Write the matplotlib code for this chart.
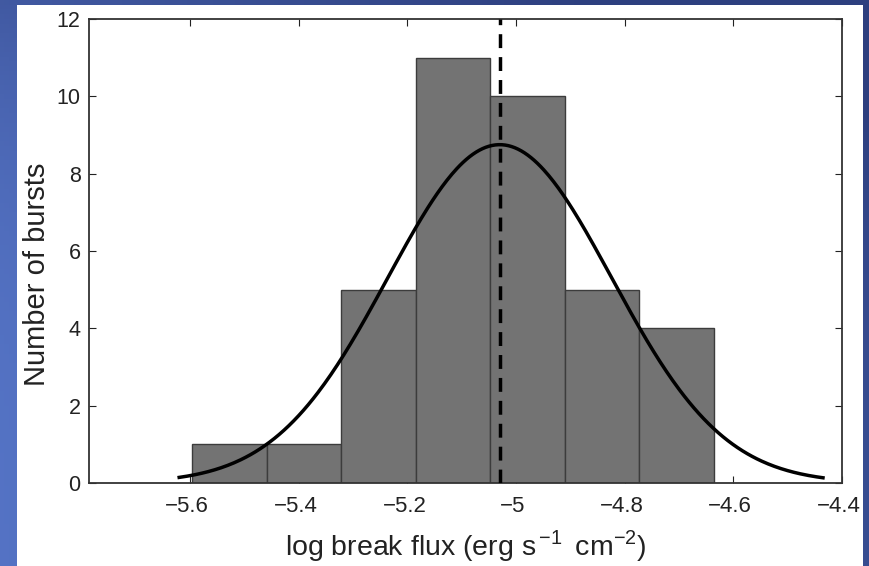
import numpy as np
import matplotlib
matplotlib.use("Agg")
import matplotlib.pyplot as plt
import matplotlib.transforms as mtransforms

plt.rcParams['font.family'] = ['Liberation Sans', 'DejaVu Sans']

# Histogram of log break flux
bin_edges = [-5.596, -5.459, -5.322, -5.184, -5.047, -4.910, -4.773, -4.636]
counts = [1, 1, 5, 11, 10, 5, 4]

# Gaussian fit parameters
fit_mean = -5.03
fit_sigma = 0.206
fit_peak = 8.75
fit_range = [-5.62, -4.435]

# Median marker
median_flux = -5.03

xticks = [-5.6, -5.4, -5.2, -5.0, -4.8, -4.6, -4.4]
xticklabels = ['\u22125.6', '\u22125.4', '\u22125.2', '\u22125', '\u22124.8', '\u22124.6', '\u22124.4']
yticks = [0, 2, 4, 6, 8, 10, 12]

fig = plt.figure(figsize=(8.69, 5.66), dpi=100)

# Blue slide background with a soft gradient
bg = fig.add_axes([0, 0, 1, 1], zorder=-10)
bg.set_axis_off()
h, w = 120, 200
gx = np.linspace(0, 1, w)[None, :]
gy = np.linspace(0, 1, h)[:, None]
light = np.array([0.33, 0.45, 0.77])
dark = np.array([0.18, 0.25, 0.50])
t = np.clip(0.75 * gx + 0.5 * (1 - gy) ** 3, 0, 1)
img = light[None, None, :] * (1 - t[..., None]) + dark[None, None, :] * t[..., None]
bg.imshow(img, extent=[0, 1, 0, 1], aspect='auto', origin='upper')
bg.set_xlim(0, 1)
bg.set_ylim(0, 1)
# White panel holding the plot
bg.add_patch(plt.Rectangle((17 / 869, 0), (863 - 17) / 869, (566 - 5) / 566,
                           facecolor='white', edgecolor='none'))

ax = fig.add_axes([89 / 869, 83 / 566, (842 - 89) / 869, (483 - 19) / 566])
ax.set_facecolor('none')

widths = np.diff(bin_edges)
ax.bar(bin_edges[:-1], counts, width=widths, align='edge',
       color='#737373', edgecolor='#3c3c3c', linewidth=1.0, zorder=2)

xs = np.linspace(fit_range[0], fit_range[1], 400)
ys = fit_peak * np.exp(-(xs - fit_mean) ** 2 / (2 * fit_sigma ** 2))
ax.plot(xs, ys, color='black', linewidth=2.5, zorder=4)

ax.axvline(median_flux, color='black', linewidth=2.5, linestyle=(0, (4, 2.6)), zorder=3)

ax.set_xlim(-5.786, -4.4)
ax.set_ylim(0, 12)
ax.set_xticks(xticks)
ax.set_xticklabels(xticklabels)
ax.set_yticks(yticks)
ax.tick_params(direction='in', top=True, right=True, length=5, width=0.8,
               labelsize=15.5, colors='#222222', pad=6)
ax.tick_params(axis='x', pad=9, labelsize=16)
# nudge x tick labels slightly left
shift = mtransforms.ScaledTranslation(-3 / 100, 0, fig.dpi_scale_trans)
for lab in ax.get_xticklabels():
    lab.set_transform(lab.get_transform() + shift)
for s in ax.spines.values():
    s.set_color('#333333')
    s.set_linewidth(1.3)

ax.set_xlabel(r'log break flux (erg s$^{\,\mathregular{-1}}\,$ cm$^{\mathregular{-2}}$)',
              fontsize=20.5, color='#222222', labelpad=8)
ax.set_ylabel('Number of bursts', fontsize=21, color='#222222')
ax.yaxis.set_label_coords(-0.051, 0.45)

fig.savefig('out.png', dpi=100)
